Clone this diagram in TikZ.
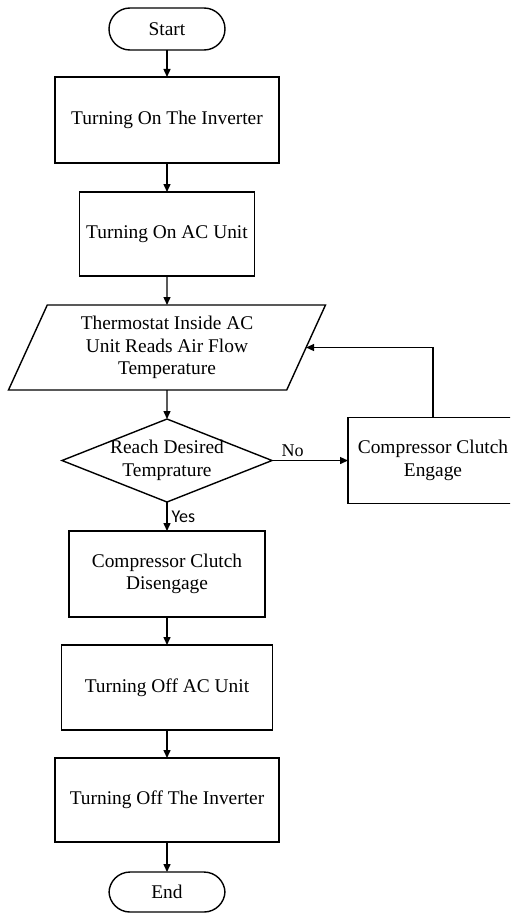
\documentclass[tikz,border=0pt]{standalone}
\usepackage{fontspec}
\setmainfont{Liberation Serif}
\newfontfamily\yesfont{Carlito}
\usetikzlibrary{positioning,arrows.meta,shapes.geometric}
\tikzset{
  base/.style ={draw, line width=0.7pt, outer sep=0pt, align=center,
                font=\fontsize{9.7}{11.3}\selectfont},
  box/.style  ={base, minimum width=112pt, minimum height=43pt},
  term/.style ={base, rounded corners=10.5pt, minimum width=58pt, minimum height=21pt},
  io/.style   ={base, trapezium, trapezium left angle=63, trapezium right angle=117,
                trapezium stretches body, minimum width=158.5pt, minimum height=42.5pt},
  dec/.style  ={base, diamond, aspect=2.5, inner sep=-1pt,
                minimum width=105pt, minimum height=41.5pt},
  fl/.style   ={-{Triangle[length=4pt,width=3.5pt]}, line width=0.7pt},
  no/.style   ={font=\fontsize{9}{10}\selectfont, inner sep=1.5pt},
  yes/.style  ={font=\yesfont\fontsize{9}{10}\selectfont, inner sep=2pt},
}

\begin{document}
\begin{tikzpicture}[x=0.5pt, y=-0.5pt, node distance=14.5pt]
  \clip (0,0) rectangle (510,915);

  % ---- main column -----------------------------------------------------
  \node[term] (start) at (167,29) {Start};
  \node[box, below=13.5pt of start] (invon) {Turning On The Inverter};
  \node[box, below=of invon, minimum width=85pt, minimum height=42pt] (acon)
        {Turning On AC Unit};
  \node[io, below=of acon] (read)
        {Thermostat Inside AC\\Unit Reads Air Flow\\Temperature};
  \node[dec, below=of read] (reach) {Reach Desired\\Temprature};
  \node[box, below=of reach, minimum width=98pt] (dis)
        {Compressor Clutch\\Disengage};
  \node[box, below=14pt of dis, minimum width=105.5pt, minimum height=42.5pt] (acoff)
        {Turning Off AC Unit};
  \node[box, below=14pt of acoff, minimum height=42pt] (invoff)
        {Turning Off The Inverter};
  \node[term, below=15pt of invoff, minimum height=20pt] (end) {End};

  % ---- the loop ----------------------------------------------------------
  \node[box, right=38pt of reach, minimum width=85pt] (eng)
        {Compressor Clutch\\Engage};

  \draw[fl] (start) -- (invon);
  \draw[fl] (invon) -- (acon);
  \draw[fl] (acon) -- (read);
  \draw[fl] (read) -- (reach);
  \draw[fl] (reach) -- node[yes, right, pos=0.5] {Yes} (dis);
  \draw[fl] (dis) -- (acoff);
  \draw[fl] (acoff) -- (invoff);
  \draw[fl] (invoff) -- (end);
  \draw[fl] (reach.east) -- node[no, above, pos=0.27] {No} (eng.west);
  \draw[fl] (eng.north) |- (read.east);
\end{tikzpicture}
\end{document}
